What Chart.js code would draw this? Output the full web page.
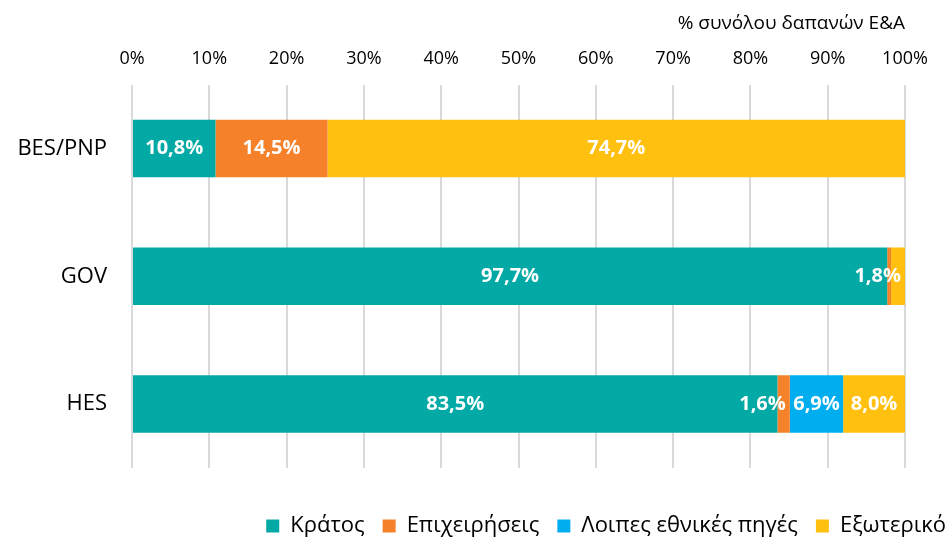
<!DOCTYPE html>
<html>
<head>
<meta charset="utf-8">
<script src="https://cdn.jsdelivr.net/npm/chart.js@4.4.1/dist/chart.umd.min.js"></script>
<style>
  html, body { margin: 0; padding: 0; background: #fff; overflow: hidden; }
  #wrap { position: relative; width: 964px; height: 547px; }
</style>
</head>
<body>
<div id="wrap"><canvas id="chart"></canvas></div>
<script>
const categories = ['BES/PNP', 'GOV', 'HES']
const kratos = [10.8, 97.7, 83.5]
const epixeiriseis = [14.5, 0.5, 1.6]
const loipes = [0, 0, 6.9]
const exoteriko = [74.7, 1.8, 8.0]
const xTicks = [0, 10, 20, 30, 40, 50, 60, 70, 80, 90, 100]

const FONT = "'Open Sans', 'Noto Sans', sans-serif"

// white value labels inside the bar segments
const barLabels = {
  id: 'barLabels',
  afterDatasetsDraw (chart) {
    const ctx = chart.ctx
    ctx.save()
    ctx.font = `bold 20px ${FONT}`
    ctx.fillStyle = '#fff'
    ctx.textBaseline = 'middle'
    chart.data.datasets.forEach((ds, i) => {
      const meta = chart.getDatasetMeta(i)
      meta.data.forEach((bar, j) => {
        const v = ds.data[j]
        if (!v || v < 1) return
        const txt = v.toFixed(1).replace('.', ',') + '%'
        const w = ctx.measureText(txt).width
        const left = Math.min(bar.x, bar.base)
        const right = Math.max(bar.x, bar.base)
        if (w + 6 > right - left) {
          // too narrow: put it at the inner end of the segment
          ctx.textAlign = 'right'
          ctx.fillText(txt, right - 4, bar.y)
        } else {
          ctx.textAlign = 'center'
          ctx.fillText(txt, (left + right) / 2, bar.y)
        }
      })
    })
    ctx.restore()
  }
}

const data = {
  labels: categories,
  datasets: [
    { label: 'Κράτος', data: kratos, backgroundColor: '#03A9A4' },
    { label: 'Επιχειρήσεις', data: epixeiriseis, backgroundColor: '#F5822A' },
    { label: 'Λοιπες εθνικές πηγές', data: loipes, backgroundColor: '#00AEEF' },
    { label: 'Εξωτερικό', data: exoteriko, backgroundColor: '#FFC010' }
  ]
}

const config = {
  type: 'bar',
  data,
  options: {
    indexAxis: 'y',
    responsive: true,
    maintainAspectRatio: false,
    animation: false,
    datasets: {
      bar: { categoryPercentage: 1, barPercentage: 0.45, borderWidth: 0 }
    },
    layout: { padding: { top: 10, left: 0, right: 0, bottom: 0 } },
    scales: {
      x: {
        position: 'top',
        stacked: true,
        min: 0,
        max: 100,
        afterBuildTicks: (scale) => { scale.ticks = xTicks.map(v => ({ value: v })) },
        ticks: {
          color: '#000',
          padding: 15,
          font: { family: FONT, size: 18 },
          callback: (v) => v + '%'
        },
        grid: { color: '#d9d9d9', lineWidth: 2, drawTicks: false },
        border: { display: false },
        title: {
          display: true,
          text: '% συνόλου δαπανών Ε&Α',
          align: 'end',
          color: '#000',
          font: { family: FONT, size: 19, lineHeight: 1 },
          padding: { top: 4, bottom: 0 }
        }
      },
      y: {
        stacked: true,
        ticks: {
          color: '#000',
          padding: 25,
          font: { family: FONT, size: 22 }
        },
        grid: { display: false, drawTicks: false },
        border: { display: false },
        afterFit: (scale) => { scale.width = 132 }
      },
      // empty strip on the right so the plot ends at 100% short of the edge
      yRight: {
        position: 'right',
        type: 'category',
        labels: categories,
        ticks: { display: false },
        grid: { display: false, drawTicks: false },
        border: { display: false },
        afterFit: (scale) => { scale.width = 59 }
      }
    },
    plugins: {
      tooltip: { enabled: false },
      legend: {
        position: 'bottom',
        align: 'end',
        title: { display: true, text: '', padding: { top: 11, bottom: 6 }, font: { size: 10 } },
        labels: {
          color: '#000',
          boxWidth: 13,
          boxHeight: 13,
          padding: 18,
          font: { family: FONT, size: 22 }
        }
      }
    }
  },
  plugins: [barLabels]
}

new Chart(document.getElementById('chart'), config)
</script>
</body>
</html>
